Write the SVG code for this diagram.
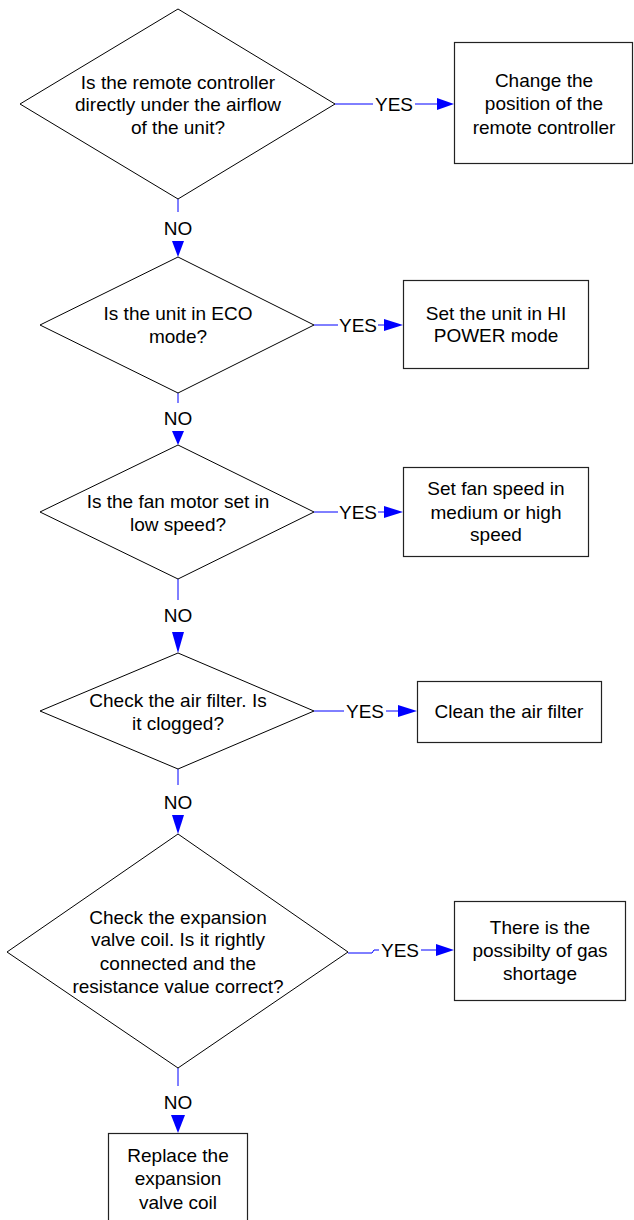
<svg xmlns="http://www.w3.org/2000/svg" width="634" height="1220" viewBox="0 0 634 1220">
<style>
.shape{fill:#fff;stroke:#000;stroke-width:1}
.box{fill:#fff;stroke:#222;stroke-width:1.2}
.t{font-family:"Liberation Sans",Arial,sans-serif;font-size:19px;fill:#000;text-anchor:middle}
.c{stroke:#0000ff;stroke-width:1;fill:none}
.ah{fill:#0000ff;stroke:none}
</style>
<rect width="634" height="1220" fill="#fff"/>
<g id="connectors">
  <!-- YES 1 -->
  <path class="c" d="M335,104 H373 M415,104 H437"/>
  <polygon class="ah" points="437,98 454,104 437,110"/>
  <text class="t" x="394" y="111">YES</text>
  <!-- NO 1 -->
  <path class="c" d="M178,199 V212"/>
  <polygon class="ah" points="172,241 184,241 178,257"/>
  <text class="t" x="178" y="235">NO</text>
  <!-- YES 2 -->
  <path class="c" d="M314,325 H338 M378,325 H384"/>
  <polygon class="ah" points="384,319 403,325 384,331"/>
  <text class="t" x="358" y="332">YES</text>
  <!-- NO 2 -->
  <path class="c" d="M178,393 V403"/>
  <polygon class="ah" points="172,431 184,431 178,445"/>
  <text class="t" x="178" y="425">NO</text>
  <!-- YES 3 -->
  <path class="c" d="M314,512 H338 M378,512 H384"/>
  <polygon class="ah" points="384,506 403,512 384,518"/>
  <text class="t" x="358" y="519">YES</text>
  <!-- NO 3 -->
  <path class="c" d="M178,579 V600"/>
  <polygon class="ah" points="172,632 184,632 178,653"/>
  <text class="t" x="178" y="622">NO</text>
  <!-- YES 4 -->
  <path class="c" d="M314,711 H344 M386,711 H398"/>
  <polygon class="ah" points="398,705 417,711 398,717"/>
  <text class="t" x="365" y="718">YES</text>
  <!-- NO 4 -->
  <path class="c" d="M178,769 V785"/>
  <polygon class="ah" points="172,815 184,815 178,834"/>
  <text class="t" x="178" y="809">NO</text>
  <!-- YES 5 -->
  <path class="c" d="M348,953 H372 L374,950 H379 M421,950 H436"/>
  <polygon class="ah" points="436,944 454,950 436,956"/>
  <text class="t" x="400" y="957">YES</text>
  <!-- NO 5 -->
  <path class="c" d="M178,1068 V1086"/>
  <polygon class="ah" points="171,1115 185,1115 178,1133"/>
  <text class="t" x="178" y="1109">NO</text>
</g>
<g id="d1">
  <polygon class="shape" points="178,9 335,104 178,199 20,104"/>
  <text class="t" x="178" y="89">Is the remote controller</text>
  <text class="t" x="178" y="111">directly under the airflow</text>
  <text class="t" x="178" y="134">of the unit?</text>
</g>
<g id="b1">
  <rect class="box" x="454.5" y="42.5" width="178" height="121"/>
  <text class="t" x="544" y="87">Change the</text>
  <text class="t" x="544" y="110">position of the</text>
  <text class="t" x="544" y="134">remote controller</text>
</g>
<g id="d2">
  <polygon class="shape" points="178,257 314,325 178,393 40,325"/>
  <text class="t" x="178" y="320">Is the unit in ECO</text>
  <text class="t" x="178" y="343">mode?</text>
</g>
<g id="b2">
  <rect class="box" x="403.5" y="280.5" width="185" height="88"/>
  <text class="t" x="496" y="320">Set the unit in HI</text>
  <text class="t" x="496" y="342">POWER mode</text>
</g>
<g id="d3">
  <polygon class="shape" points="178,445 314,512 178,579 40,512"/>
  <text class="t" x="178" y="508">Is the fan motor set in</text>
  <text class="t" x="178" y="531">low speed?</text>
</g>
<g id="b3">
  <rect class="box" x="403.5" y="467.5" width="185" height="89"/>
  <text class="t" x="496" y="495">Set fan speed in</text>
  <text class="t" x="496" y="519">medium or high</text>
  <text class="t" x="496" y="541">speed</text>
</g>
<g id="d4">
  <polygon class="shape" points="178,653 314,711 178,769 40,711"/>
  <text class="t" x="178" y="707">Check the air filter. Is</text>
  <text class="t" x="178" y="730">it clogged?</text>
</g>
<g id="b4">
  <rect class="box" x="417.5" y="681.5" width="184" height="61"/>
  <text class="t" x="509" y="718">Clean the air filter</text>
</g>
<g id="d5">
  <polygon class="shape" points="178,834 348,952 178,1068 7,952"/>
  <text class="t" x="178" y="924">Check the expansion</text>
  <text class="t" x="178" y="946">valve coil. Is it rightly</text>
  <text class="t" x="178" y="970">connected and the</text>
  <text class="t" x="178" y="993">resistance value correct?</text>
</g>
<g id="b5">
  <rect class="box" x="454.5" y="901.5" width="171" height="99"/>
  <text class="t" x="540" y="934">There is the</text>
  <text class="t" x="540" y="957">possibilty of gas</text>
  <text class="t" x="540" y="980">shortage</text>
</g>
<g id="b6">
  <rect class="box" x="108.5" y="1133.5" width="139" height="100"/>
  <text class="t" x="178" y="1162">Replace the</text>
  <text class="t" x="178" y="1185">expansion</text>
  <text class="t" x="178" y="1209">valve coil</text>
</g>
</svg>
